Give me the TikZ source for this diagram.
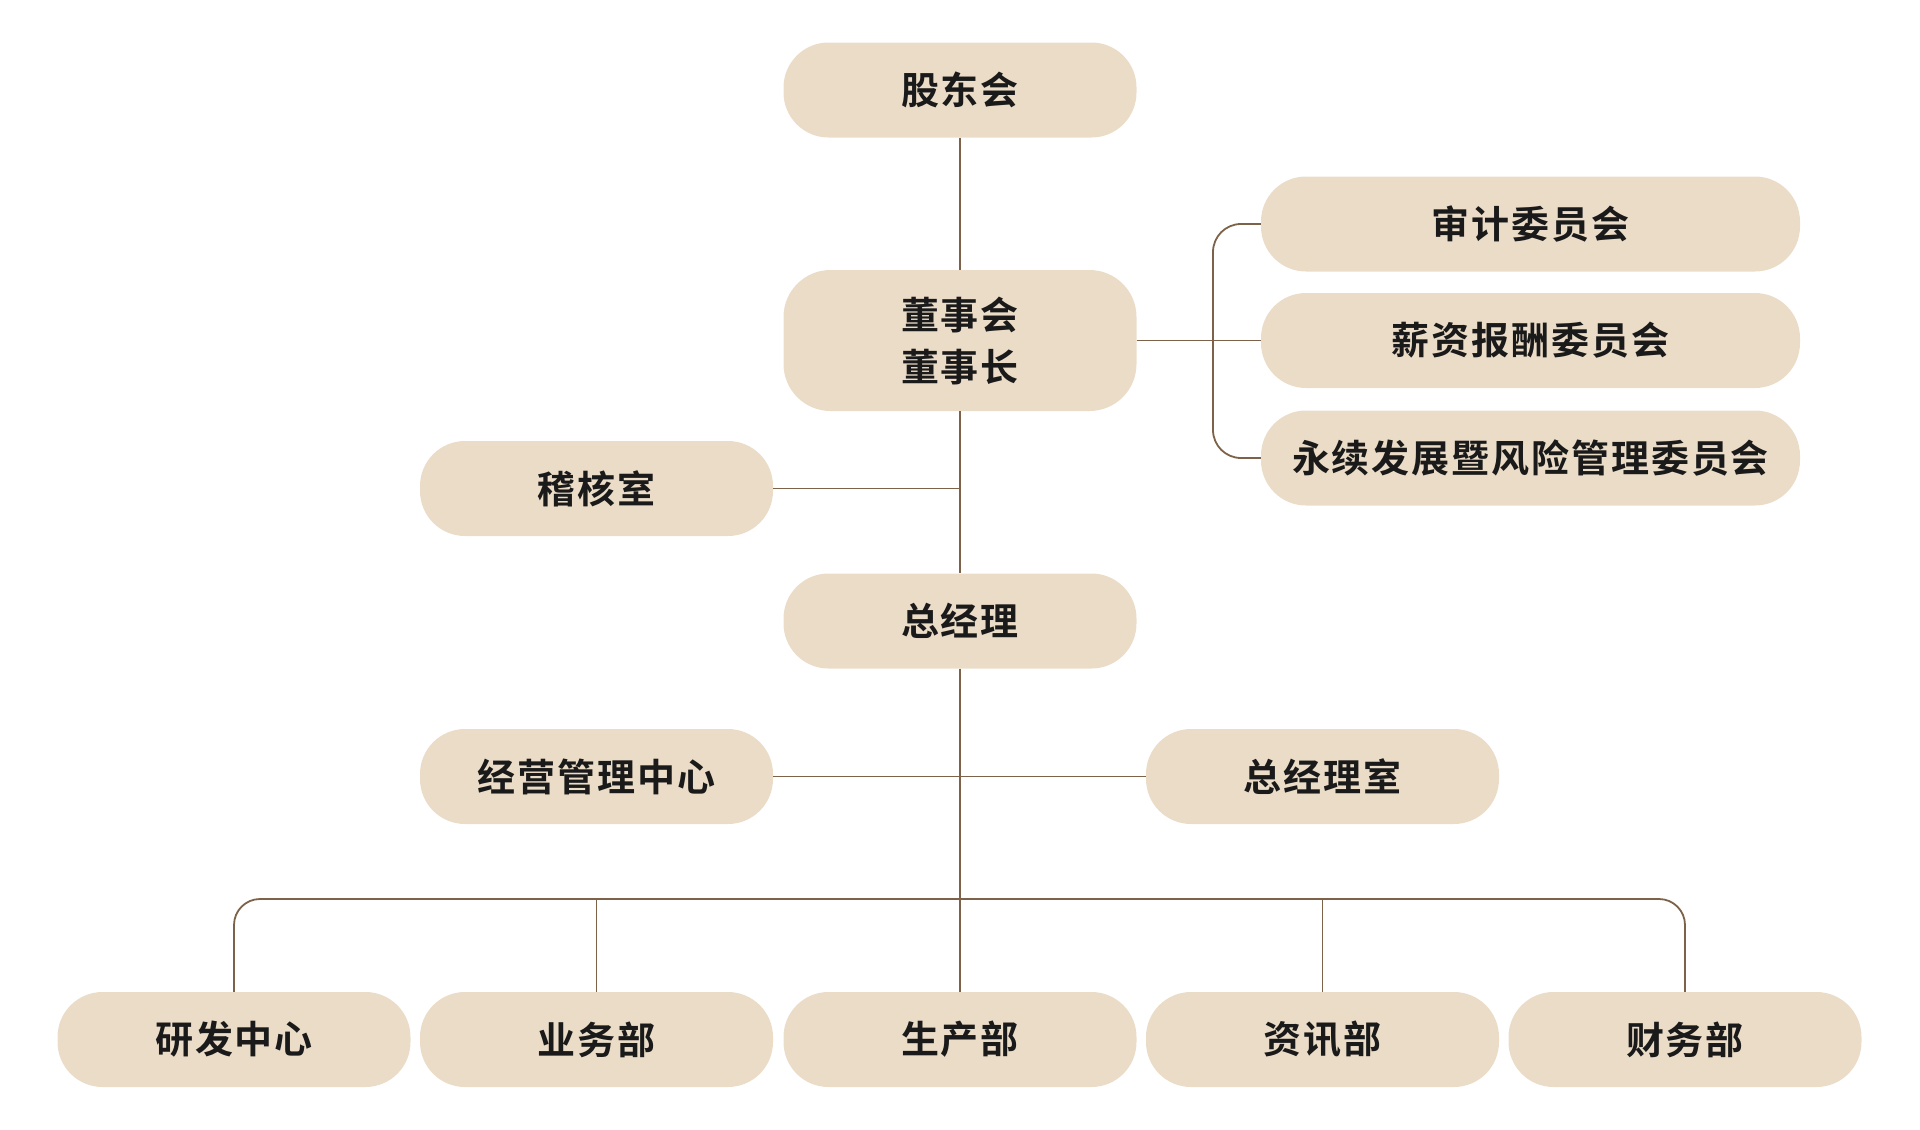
\documentclass[tikz,border=0pt]{standalone}
\usepackage{fontspec}
\newfontfamily\cjk[LetterSpace=5]{Noto Sans CJK SC Bold}
\definecolor{boxfill}{RGB}{235,220,200}
\definecolor{linebrown}{RGB}{125,98,73}
\definecolor{txt}{RGB}{26,26,26}
\begin{document}
\begin{tikzpicture}[x=1pt,y=-1pt,
  orgbox/.style={rectangle, fill=boxfill, rounded corners=45pt, inner sep=0pt,
    minimum width=353pt, minimum height=95pt, text=txt, align=center,
    font=\cjk\fontsize{38}{52}\selectfont},
  link/.style={draw=linebrown, line width=1.8pt}]
\useasboundingbox (0,0) rectangle (1920,1130);
% nodes
\node[orgbox] (sh) at (960,90) {股东会};
\node[orgbox, minimum height=141pt, rounded corners=47pt] (bd) at (960,340.5) {董事会\\董事长};
\node[orgbox, minimum width=539pt] (c1) at (1530.5,224) {审计委员会};
\node[orgbox, minimum width=539pt] (c2) at (1530.5,340.5) {薪资报酬委员会};
\node[orgbox, minimum width=539pt] (c3) at (1530.5,458) {永续发展暨风险管理委员会};
\node[orgbox] (jh) at (596.5,488.5) {稽核室};
\node[orgbox] (gm) at (960,621) {总经理};
\node[orgbox] (jy) at (596.5,776.5) {经营管理中心};
\node[orgbox] (gms) at (1322.5,776.5) {总经理室};
\node[orgbox] (d1) at (234,1039.5) {研发中心};
\node[orgbox] (d2) at (596.5,1039.5) {业务部};
\node[orgbox] (d3) at (960,1039.5) {生产部};
\node[orgbox] (d4) at (1322.5,1039.5) {资讯部};
\node[orgbox] (d5) at (1685,1039.5) {财务部};
\coordinate (bk) at (1213,340.5);
\coordinate (bus) at (960,899);
% connectors
\begin{scope}[on background layer/.style={}]
\draw[link] (sh.south) -- (bd.north);
\draw[link] (bd.south) -- (gm.north);
\draw[link] (jh.east) -- (jh.east -| bd.south);
\draw[link] (bd.east) -- (c2.west);
\draw[link, rounded corners=28pt] (c1.west) -- (c1.west -| bk) -- (c3.west -| bk) -- (c3.west);
\draw[link] (jy.east) -- (gms.west);
\draw[link] (gm.south) -- (d3.north);
\draw[link, rounded corners=26pt] (d1.north) -- (d1.north |- bus) -- (d5.north |- bus) -- (d5.north);
\draw[link] (d2.north) -- (d2.north |- bus);
\draw[link] (d4.north) -- (d4.north |- bus);
\end{scope}
\end{tikzpicture}
\end{document}
